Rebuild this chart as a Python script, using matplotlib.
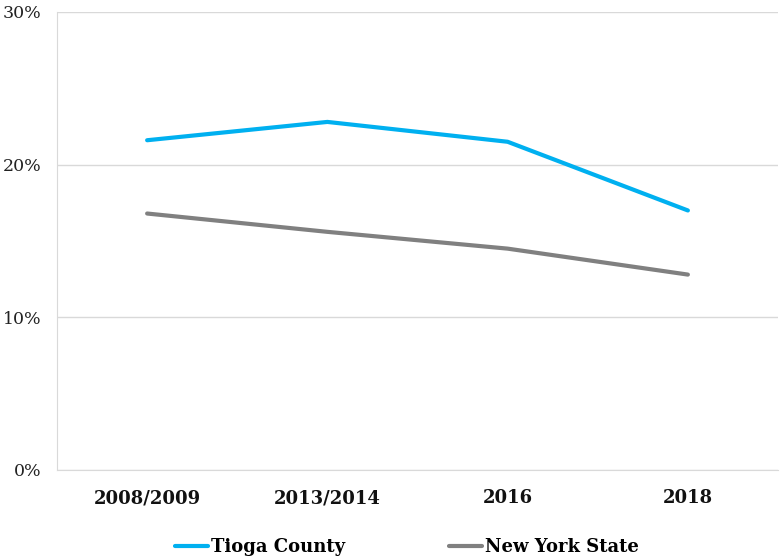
import numpy as np
import matplotlib.pyplot as plt
from matplotlib.ticker import FuncFormatter

# Datos
years = ["2008/2009", "2013/2014", "2016", "2018"]
tioga = [21.6, 22.8, 21.5, 17.0]
nys = [16.8, 15.6, 14.5, 12.8]

plt.rcParams['font.family'] = ['DejaVu Serif']

fig = plt.figure(figsize=(7.8, 5.6), dpi=100)
ax = fig.add_axes([57 / 780, 1 - 470 / 560, 721 / 780, 458 / 560])

x = np.arange(len(years))
ax.plot(x, tioga, color='#00b0f0', linewidth=3, solid_capstyle='round', label='Tioga County')
ax.plot(x, nys, color='#808080', linewidth=3, solid_capstyle='round', label='New York State')

ax.set_xlim(-0.5, len(years) - 0.5)
ax.set_ylim(0, 30)
ax.set_yticks([0, 10, 20, 30])
ax.yaxis.set_major_formatter(FuncFormatter(lambda v, p: f"{v:.0f}%"))
ax.set_xticks(x)
ax.set_xticklabels(years, fontweight='bold', fontsize=13)
ax.tick_params(axis='y', labelsize=12.5, length=0, pad=11, colors='#222222')
ax.tick_params(axis='x', length=0, pad=14, colors='#111111')

ax.grid(axis='y', color='#d9d9d9', linewidth=1)
ax.set_axisbelow(True)
for s in ['top', 'right']:
    ax.spines[s].set_visible(False)
ax.spines['left'].set_color('#d9d9d9')
ax.spines['bottom'].set_color('#d9d9d9')

leg = fig.legend(loc='center', bbox_to_anchor=(407 / 780, 1 - 547 / 560), ncol=2, frameon=False,
                 prop={'weight': 'bold', 'size': 13}, handlelength=1.8, handletextpad=0.15,
                 columnspacing=5.8)

plt.savefig("out.png", dpi=100)
plt.close()
